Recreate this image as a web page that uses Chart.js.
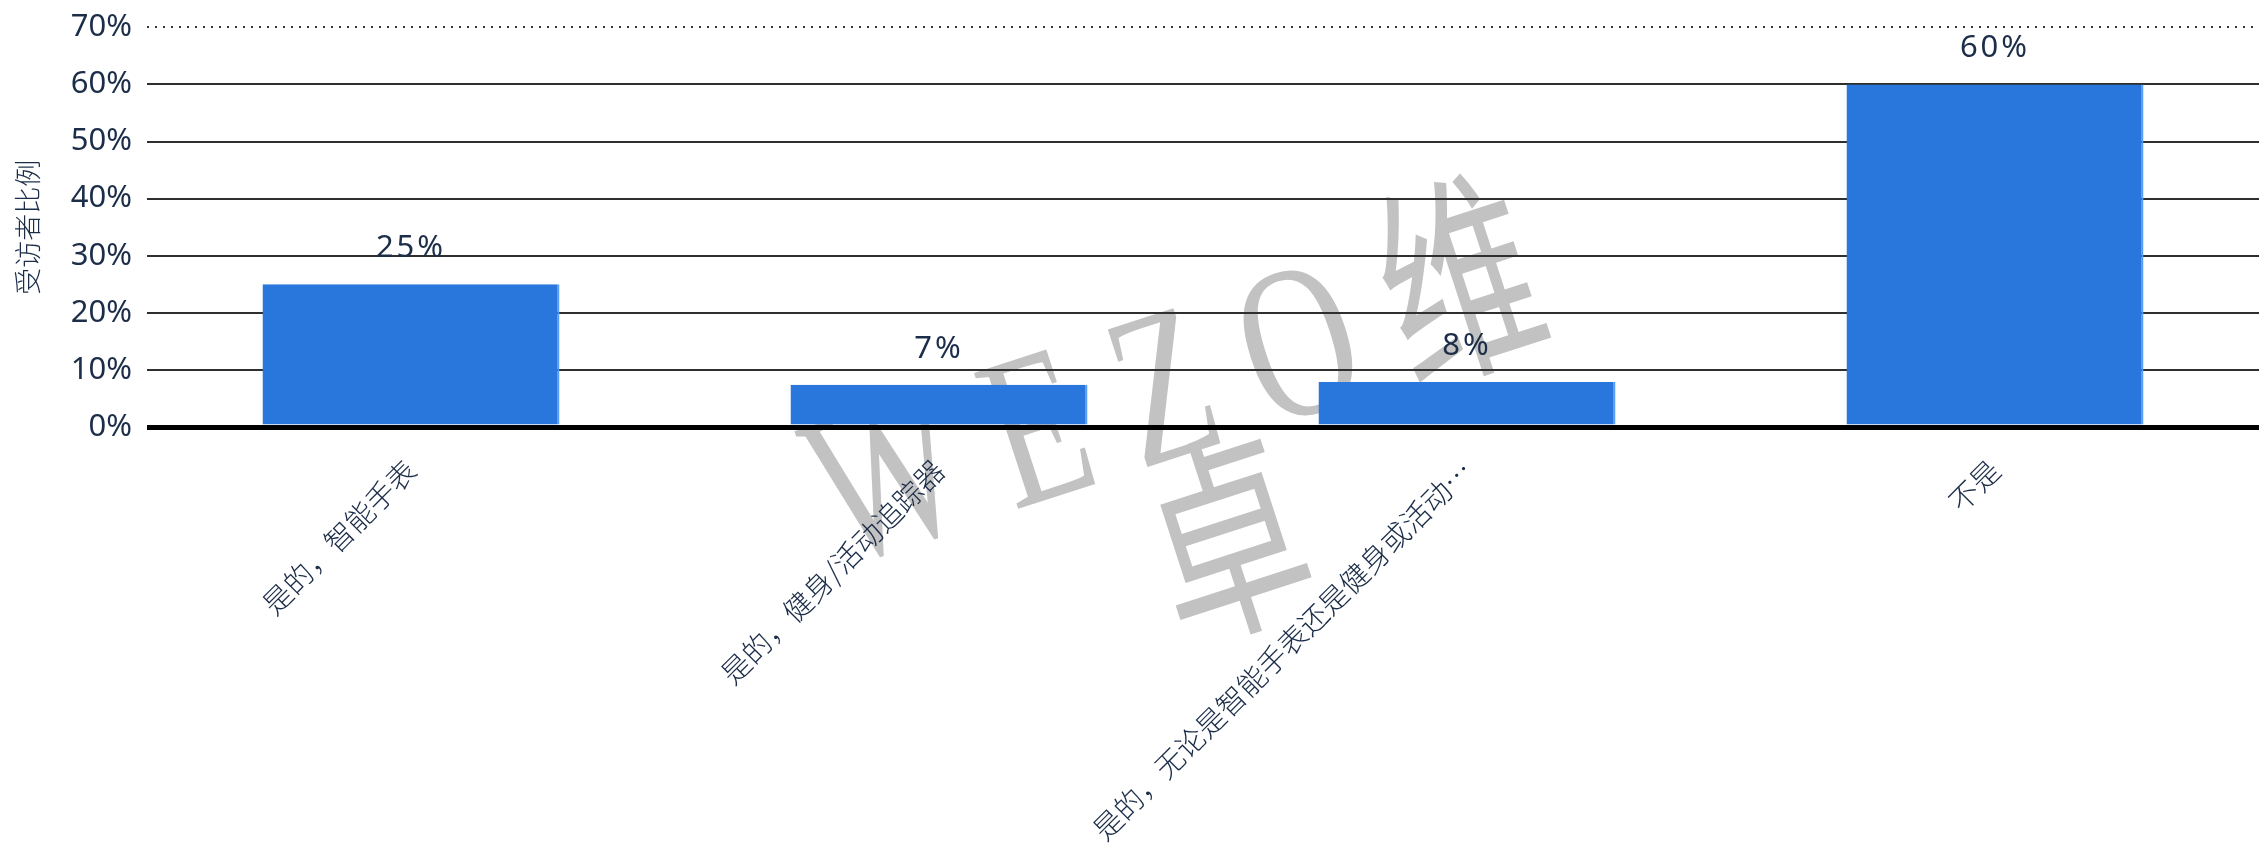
<!DOCTYPE html>
<html>
<head>
<meta charset="utf-8">
<script src="https://cdn.jsdelivr.net/npm/chart.js@4.4.0/dist/chart.umd.min.js"></script>
<style>
  html, body { margin: 0; padding: 0; background: #fff; }
  #wrap { width: 2259px; height: 844px; position: relative; }
</style>
</head>
<body>
<div id="wrap"><canvas id="chart"></canvas></div>
<script>
// --- data ---
const categories = [
    '是的，智能手表',
    '是的，健身/活动追踪器',
    '是的，无论是智能手表还是健身或活动追踪器',
    '不是'
];
const shares = [25, 7.4, 7.9, 60];   // percent of respondents
const yTicks = [0, 10, 20, 30, 40, 50, 60, 70];
const yTitle = '受访者比例';
const watermarkLines = ['W E Z O 维', '卓'];

const textColor = '#1b2d48';
const barColor = '#2976dc';

// faint watermark under grid and bars
const watermark = {
    id: 'watermark',
    beforeDraw(chart) {
        const ctx = chart.ctx;
        ctx.save();
        ctx.translate(1180, 396);
        ctx.rotate(-18 * Math.PI / 180);
        ctx.scale(0.92, 1.3);
        ctx.fillStyle = '#c2c2c2';
        ctx.font = '168px "Liberation Serif", "Noto Sans CJK SC", serif';
        ctx.textAlign = 'center';
        ctx.textBaseline = 'middle';
        watermarkLines.forEach((t, i) => ctx.fillText(t, 0, i * 134));
        ctx.restore();
    }
};

// dotted line at the top tick + value labels above bars
const extras = {
    id: 'extras',
    beforeDatasetsDraw(chart) {
        const ctx = chart.ctx, y = chart.scales.y, area = chart.chartArea;
        const py = Math.round(y.getPixelForValue(yTicks[yTicks.length - 1]));
        ctx.save();
        ctx.strokeStyle = '#333';
        ctx.lineWidth = 2;
        ctx.setLineDash([2, 6]);
        ctx.beginPath();
        ctx.moveTo(area.left, py);
        ctx.lineTo(area.right, py);
        ctx.stroke();
        ctx.restore();
    },
    afterDatasetsDraw(chart) {
        const ctx = chart.ctx;
        const meta = chart.getDatasetMeta(0);
        ctx.save();
        ctx.fillStyle = textColor;
        ctx.font = '31px "Noto Sans", sans-serif';
        ctx.textAlign = 'center';
        ctx.textBaseline = 'alphabetic';
        ctx.letterSpacing = '3px';
        meta.data.forEach((bar, i) => {
            ctx.fillText(Math.round(shares[i]) + '%', bar.x, bar.y - 27);
        });
        ctx.restore();
    }
};

new Chart(document.getElementById('chart'), {
    type: 'bar',
    data: {
        labels: categories,
        datasets: [{
            data: shares,
            backgroundColor: barColor,
            borderColor: '#5a9af0',
            borderWidth: { right: 2 },
            categoryPercentage: 1,
            barPercentage: 0.5625
        }]
    },
    options: {
        responsive: true,
        maintainAspectRatio: false,
        animation: false,
        layout: { padding: { top: 0, right: 0, left: 0, bottom: 0 } },
        plugins: { legend: { display: false }, tooltip: { enabled: false } },
        scales: {
            x: {
                grid: { display: false },
                border: { display: false },
                afterFit: (s) => { s.height = 417; },
                ticks: {
                    autoSkip: false,
                    minRotation: 45,
                    maxRotation: 45,
                    padding: 18,
                    color: textColor,
                    font: { family: '"Noto Sans CJK SC", sans-serif', size: 29, weight: 300 },
                    callback: function (v) {
                        const t = this.getLabelForValue(v);
                        return t.length > 17 ? t.slice(0, 17) + '…' : t;
                    }
                }
            },
            y: {
                min: 0,
                max: 70,
                afterFit: (s) => { s.width = 147; },
                afterBuildTicks: (s) => { s.ticks = yTicks.map(v => ({ value: v })); },
                border: { display: false },
                grid: {
                    drawTicks: false,
                    color: (c) => c.tick.value === 70 ? 'rgba(0,0,0,0)' : (c.tick.value === 0 ? '#000' : '#2f2f2f'),
                    lineWidth: (c) => c.tick.value === 0 ? 5 : 2
                },
                ticks: {
                    padding: 15,
                    color: textColor,
                    font: { family: '"Noto Sans", sans-serif', size: 31, lineHeight: 0.8 },
                    callback: (v) => v + '%'
                },
                title: {
                    display: true,
                    text: yTitle,
                    color: textColor,
                    padding: { top: 12, bottom: 0 },
                    font: { family: '"Noto Sans CJK SC", sans-serif', size: 27, weight: 300 }
                }
            }
        }
    },
    plugins: [watermark, extras]
});
</script>
</body>
</html>
